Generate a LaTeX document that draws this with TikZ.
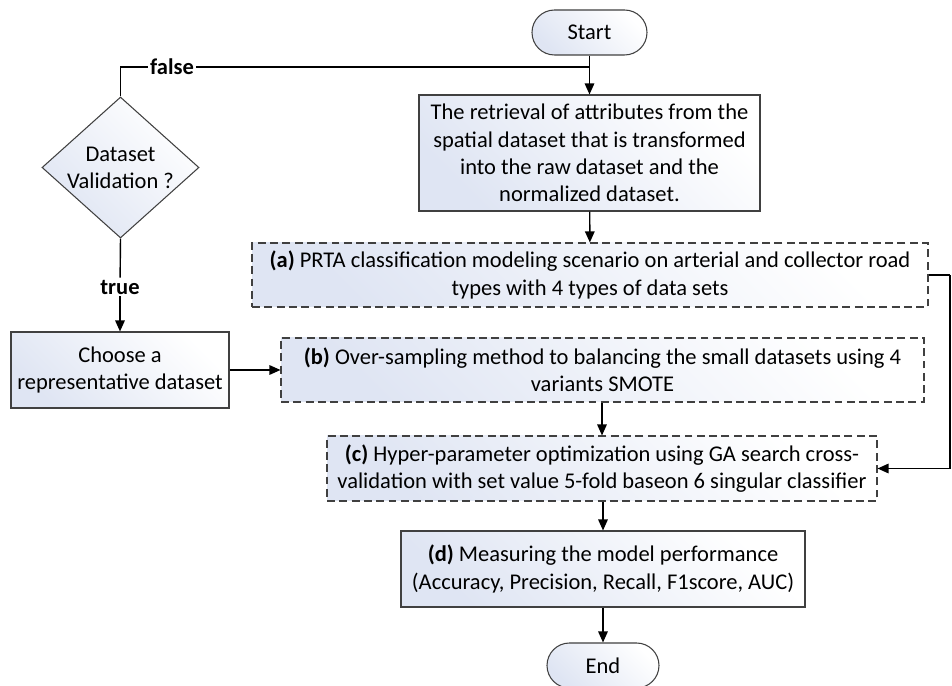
\documentclass[tikz,border=0pt]{standalone}
\usepackage{fontspec}
\setmainfont{Carlito}
\usepackage{tikz}
\usetikzlibrary{arrows.meta,shapes.geometric}
\definecolor{boxblue}{RGB}{223,229,243}

\begin{document}
\begin{tikzpicture}[font=\fontsize{12.8}{15.5}\selectfont]
							\tikzstyle{box}=[rectangle,draw=black!75,line width=0.6pt,top color=boxblue,bottom color=white,shading angle=135,inner sep=0pt,align=center]
							\tikzstyle{dashbox}=[box,dash pattern=on 4.5pt off 2.5pt]
							\tikzstyle{term}=[box,rounded corners=0.45cm,minimum width=2.3cm,minimum height=0.9cm]
							\tikzstyle{decision}=[box,diamond,aspect=1.1,minimum width=3.14cm,minimum height=2.82cm]
							\tikzstyle{tag}=[fill=white,inner sep=1pt,font=\fontsize{12.8}{15.5}\selectfont\bfseries]
							\tikzstyle{arrow}=[-{Triangle[length=2.2mm,width=1.9mm]}]
							\useasboundingbox (0,0) rectangle (19.04,-13.72);
							\node[term] (1) at (11.79,-0.65) {Start};
							\node[box,minimum width=6.82cm,minimum height=2.32cm] (2) at (11.79,-3.06) {The retrieval of attributes from the\\spatial dataset that is transformed\\into the raw dataset and the\\normalized dataset.};
							\node[dashbox,minimum width=13.52cm,minimum height=1.28cm] (3) at (11.8,-5.5) {\textbf{(a)} PRTA classification modeling scenario on arterial and collector road\\types with 4 types of data sets};
							\node[decision] (5) at (2.41,-3.35) {Dataset\\Validation ?};
							\node[box,minimum width=4.36cm,minimum height=1.52cm] (6) at (2.4,-7.4) {Choose a\\representative dataset};
							\node[dashbox,minimum width=12.86cm,minimum height=1.28cm] (7) at (12.05,-7.4) {\textbf{(b)} Over-sampling method to balancing the small datasets using 4\\variants SMOTE};
							\node[dashbox,minimum width=11.0cm,minimum height=1.3cm] (8) at (12.04,-9.37) {\textbf{(c)} Hyper-parameter optimization using GA search cross-\\validation with set value 5-fold baseon 6 singular classifier};
							\node[box,minimum width=8.08cm,minimum height=1.52cm] (9) at (12.06,-11.38) {\textbf{(d)} Measuring the model performance\\(Accuracy, Precision, Recall, F1score, AUC)};
							\node[term,minimum width=2.24cm] (10) at (12.06,-13.31) {End};
							\node[tag] (11) at (3.44,-1.34) {false};
							\node[tag] (12) at (2.4,-5.74) {true};
							\coordinate (j) at (11.79,-1.34);
							\coordinate (r) at (19.0,-5.5);
							\draw[arrow,line width=0.8pt] (1) -- (2);
							\draw[line width=0.8pt] (5.north) |- (11.west);
							\draw[line width=0.8pt] (11.east) -- (j);
							\draw[arrow,line width=0.8pt] (2) -- (3);
							\draw[line width=0.8pt] (5.south) -- (12);
							\draw[arrow,line width=0.8pt] (12) -- (6);
							\draw[arrow,line width=0.8pt] (6.east) -- (7.west);
							\draw[line width=0.8pt] (3.east) -- (r);
							\draw[arrow,line width=0.8pt] (r) |- (8.east);
							\draw[arrow,line width=0.8pt] (7.south -| 8.north) -- (8.north);
							\draw[arrow,line width=0.8pt] (8.south -| 9.north) -- (9.north);
							\draw[arrow,line width=0.8pt] (9) -- (10);
							\end{tikzpicture}
\end{document}
